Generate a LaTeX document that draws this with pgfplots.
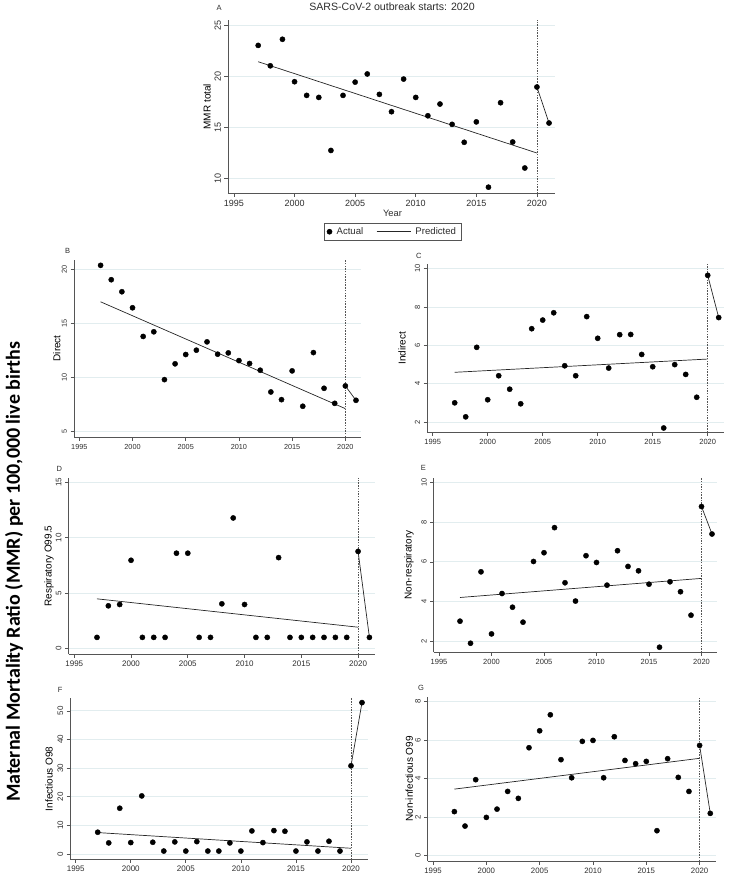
\documentclass[border=0pt]{standalone}
\usepackage{fontspec}
\setmainfont{Liberation Sans}
\newfontfamily\carlito{Carlito}
\usepackage{pgfplots}
\pgfplotsset{compat=1.18}
\usepackage{pgfplotstable}

\definecolor{gridc}{RGB}{226,237,239}
\definecolor{axisc}{RGB}{85,85,85}
\definecolor{txtc}{RGB}{45,45,45}

\newcommand\fs[1]{\fontsize{#1}{#1}\selectfont}

% Maternal mortality ratio per 100,000 live births, by cause group
\pgfplotstableread{
year  A      B      C     D      E     F      G
1997  23.00  20.37  3.01  1.00   3.02  7.58   2.29
1998  21.00  19.04  2.28  3.85   1.91  3.85   1.54
1999  23.60  17.93  5.90  3.97   5.50  15.97  3.95
2000  19.44  16.45  3.17  7.96   2.38  3.96   1.99
2001  18.10  13.80  4.42  1.00   4.41  20.28  2.42
2002  17.90  14.23  3.72  1.00   3.72  4.08   3.34
2003  12.70  9.81   2.96  1.00   2.97  1.00   2.98
2004  18.10  11.27  6.87  8.60   6.02  4.20   5.61
2005  19.40  12.13  7.32  8.60   6.46  1.00   6.49
2006  20.20  12.53  7.70  1.00   7.72  4.30   7.32
2007  18.20  13.30  4.94  1.00   4.95  1.00   4.99
2008  16.50  12.16  4.42  4.03   4.03  1.00   4.05
2009  19.70  12.28  7.50  11.78  6.31  3.85   5.94
2010  17.90  11.57  6.37  3.97   5.97  1.00   5.99
2011  16.10  11.30  4.82  1.00   4.83  8.04   4.05
2012  17.25  10.68  6.56  1.00   6.56  3.96   6.18
2013  15.26  8.67   6.57  8.20   5.77  8.16   4.95
2014  13.50  7.96   5.53  1.00   5.55  7.93   4.78
2015  15.50  10.62  4.89  1.00   4.88  1.00   4.90
2016  9.10   7.35   1.70  1.00   1.71  4.20   1.30
2017  17.38  12.31  5.00  1.00   5.00  1.00   5.04
2018  13.53  9.01   4.49  1.00   4.50  4.43   4.07
2019  10.98  7.62   3.30  1.00   3.32  1.00   3.34
2020  18.92  9.23   9.65  8.76   8.78  30.80  5.73
2021  15.39  7.90   7.45  1.00   7.40  52.90  2.20
}\mmr

% Linear trend fitted over the pre-pandemic years
\pgfplotstableread{
year  A      B      C     D     E     F     G
1997  21.40  17.00  4.60  4.48  4.21  7.46  3.46
2020  12.45  7.13   5.29  1.92  5.17  1.98  5.06
}\fit

\pgfplotsset{
  panel/.style={
    scale only axis, clip=false,
    axis lines*=left,
    axis line style={axisc, line width=0.7pt, -},
    tick style={axisc, line width=0.7pt},
    tick align=outside, major tick length=3.5pt,
    xmin=1994.5, xmax=2021.5,
    xtick={1995,2000,...,2020},
    ymajorgrids, grid style={gridc, line width=0.8pt},
    yticklabel style={rotate=90, anchor=south},
    /pgf/number format/1000 sep={},
    /pgf/number format/assume math mode=true,
    ticklabel style={txtc},
    label style={txtc},
  },
  ylab/.style={every axis y label/.style={at={(axis description cs:#1,0.5)}, rotate=90, anchor=center}},
  actual/.style={only marks, mark=*, mark size=2.6pt, black},
  trend/.style={black!85, line width=0.7pt},
  cut/.style={axisc, line width=0.6pt, dash pattern=on 1.5pt off 1.2pt, forget plot},
  actual legend/.style={legend image code/.code={%
    \draw[black, only marks, mark=*, mark size=2.6pt] plot coordinates {(3pt,0pt)};}},
  trend legend/.style={legend image code/.code={%
    \draw[black!85, line width=0.7pt] (0pt,0pt) -- (34pt,0pt);}},
}

\begin{document}
\begin{tikzpicture}
\path[use as bounding box] (0,0) rectangle (732pt,-885pt);

\node[rotate=90, font=\carlito\bfseries\fs{20}] at (14pt,-572pt)
  {Maternal Mortality Ratio (MMR) per 100,000 live births};

% Panel A: total
\begin{axis}[panel, at={(227.9pt,-193.3pt)}, anchor=south west,
  width=327.2pt, height=173.4pt, ymin=8.5, ymax=25.5, ytick={10,15,20,25},
  ticklabel style={font=\fs{9}}, label style={font=\fs{9.3}},
  ylab=-0.064, ylabel={MMR total},
  xlabel={Year}, xlabel style={at={(axis description cs:0.503,-0.115)}, anchor=center},
  title={SARS-CoV-2 outbreak starts: 2020},
  title style={at={(axis description cs:0.5015,1.022)}, anchor=base, font=\fs{10.6}, txtc},
  legend columns=2,
  legend style={at={(axis description cs:0.503,-0.173)}, anchor=north, draw=axisc,
    font=\fs{9.6}, text=txtc, inner xsep=3pt, inner ysep=2pt,
    /tikz/every odd column/.append style={column sep=2.5pt},
    /tikz/every even column/.append style={column sep=11pt}},
  ]
  \addplot[actual, actual legend] table[x=year, y=A] {\mmr};
  \addlegendentry{Actual}
  \addplot[trend, trend legend] table[x=year, y=A] {\fit};
  \addlegendentry{Predicted}
  \addplot[trend, forget plot, restrict x to domain=2020:2021] table[x=year, y=A] {\mmr};
  \addplot[cut] coordinates {(2020,8.5) (2020,25.5)};
  \node[font=\fs{7.5}, txtc] at (axis description cs:-0.027,1.069) {A};
\end{axis}

% Panel B: direct
\begin{axis}[panel, at={(74pt,-437.1pt)}, anchor=south west,
  width=287.3pt, height=177.5pt, ymin=4.5, ymax=20.9, ytick={5,10,15,20},
  ticklabel style={font=\fs{7.3}}, label style={font=\fs{8.9}},
  ylab=-0.060, ylabel={Direct}]
  \addplot[actual] table[x=year, y=B] {\mmr};
  \addplot[trend] table[x=year, y=B] {\fit};
  \addplot[trend, restrict x to domain=2020:2021] table[x=year, y=B] {\mmr};
  \addplot[cut] coordinates {(2020,4.5) (2020,20.9)};
  \node[font=\fs{7.5}, txtc] at (axis description cs:-0.022,1.048) {B};
\end{axis}

% Panel C: indirect
\begin{axis}[panel, at={(427.2pt,-432.2pt)}, anchor=south west,
  width=297pt, height=168.2pt, ymin=1.48, ymax=10.24, ytick={2,4,...,10},
  ticklabel style={font=\fs{7.5}}, label style={font=\fs{8.1}},
  ylab=-0.085, ylabel={Indirect}]
  \addplot[actual] table[x=year, y=C] {\mmr};
  \addplot[trend] table[x=year, y=C] {\fit};
  \addplot[trend, restrict x to domain=2020:2021] table[x=year, y=C] {\mmr};
  \addplot[cut] coordinates {(2020,1.48) (2020,10.24)};
  \node[font=\fs{7.5}, txtc] at (axis description cs:-0.028,1.049) {C};
\end{axis}

% Panel D: respiratory O99.5
\begin{axis}[panel, at={(68.6pt,-654pt)}, anchor=south west,
  width=306.5pt, height=175.7pt, ymin=-0.5, ymax=15.36, ytick={0,5,10,15},
  ticklabel style={font=\fs{8}}, label style={font=\fs{9}},
  ylab=-0.064, ylabel={Respiratory O99.5}]
  \addplot[actual] table[x=year, y=D] {\mmr};
  \addplot[trend] table[x=year, y=D] {\fit};
  \addplot[trend, restrict x to domain=2020:2021] table[x=year, y=D] {\mmr};
  \addplot[cut] coordinates {(2020,-0.5) (2020,15.36)};
  \node[font=\fs{7.5}, txtc] at (axis description cs:-0.030,1.053) {D};
\end{axis}

% Panel E: non-respiratory
\begin{axis}[panel, at={(433.75pt,-652.4pt)}, anchor=south west,
  width=283.5pt, height=174.7pt, ymin=1.45, ymax=10.23, ytick={2,4,...,10},
  ticklabel style={font=\fs{7.5}}, label style={font=\fs{8.6}},
  ylab=-0.087, ylabel={Non-respiratory}]
  \addplot[actual] table[x=year, y=E] {\mmr};
  \addplot[trend] table[x=year, y=E] {\fit};
  \addplot[trend, restrict x to domain=2020:2021] table[x=year, y=E] {\mmr};
  \addplot[cut] coordinates {(2020,1.45) (2020,10.23)};
  \node[font=\fs{7.5}, txtc] at (axis description cs:-0.037,1.054) {E};
\end{axis}

% Panel F: infectious O98
\begin{axis}[panel, at={(70.2pt,-859.2pt)}, anchor=south west,
  width=297.3pt, height=160.9pt, ymin=-1.85, ymax=54.4, ytick={0,10,...,50},
  ticklabel style={font=\fs{8}}, label style={font=\fs{8.4}},
  ylab=-0.071, ylabel={Infectious O98}]
  \addplot[actual] table[x=year, y=F] {\mmr};
  \addplot[trend] table[x=year, y=F] {\fit};
  \addplot[trend, restrict x to domain=2020:2021] table[x=year, y=F] {\mmr};
  \addplot[cut] coordinates {(2020,-1.85) (2020,54.4)};
  \node[font=\fs{7.5}, txtc] at (axis description cs:-0.034,1.052) {F};
\end{axis}

% Panel G: non-infectious O99
\begin{axis}[panel, at={(427.7pt,-861.1pt)}, anchor=south west,
  width=287.9pt, height=164.4pt, ymin=-0.28, ymax=8.26, ytick={0,2,...,8},
  ticklabel style={font=\fs{7.8}}, label style={font=\fs{7}},
  ylab=-0.064, ylabel={Non-infectious O99}]
  \addplot[actual] table[x=year, y=G] {\mmr};
  \addplot[trend] table[x=year, y=G] {\fit};
  \addplot[trend, restrict x to domain=2020:2021] table[x=year, y=G] {\mmr};
  \addplot[cut] coordinates {(2020,-0.28) (2020,8.26)};
  \node[font=\fs{7.5}, txtc] at (axis description cs:-0.023,1.051) {G};
\end{axis}
\end{tikzpicture}
\end{document}
